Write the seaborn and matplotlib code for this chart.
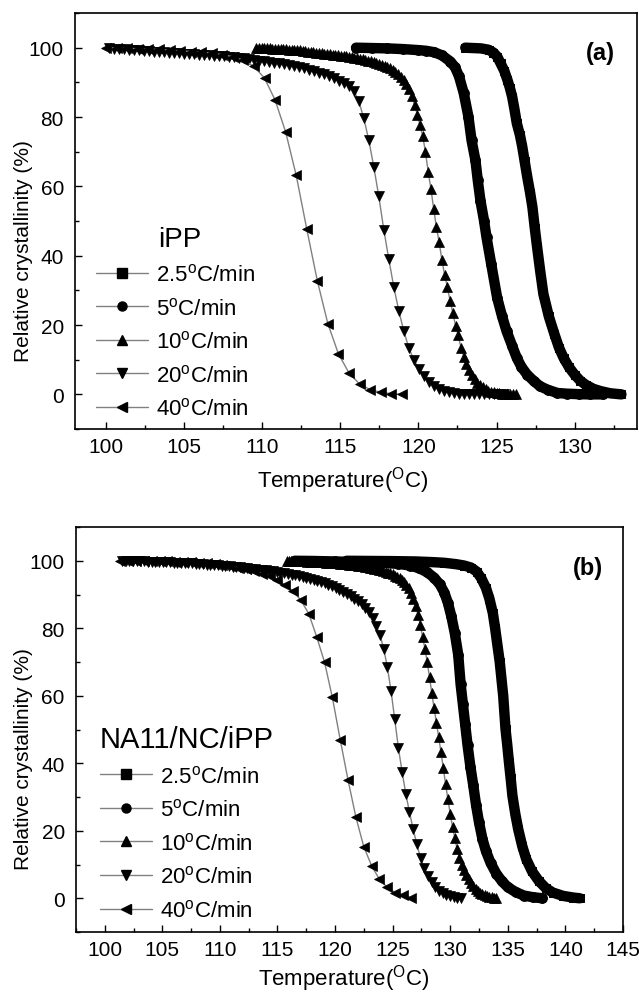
import numpy as np
import matplotlib
matplotlib.use('Agg')
import matplotlib.pyplot as plt
from matplotlib.lines import Line2D
from matplotlib.ticker import MultipleLocator
import seaborn as sns

# ---------------- panel (a): iPP ----------------
# sparse series: constant cooling -> equally spaced temperatures (start, step)
t40a_start, t40a_step = 100.0, 0.676
y40a = [100.0, 99.9, 99.8, 99.7, 99.6, 99.5, 99.3, 99.1, 98.9, 98.7,
        98.4, 98.0, 97.4, 96.4, 94.6, 91.2, 84.9, 75.7, 63.2, 47.7,
        32.8, 20.4, 11.7, 6.2, 3.0, 1.4, 0.6, 0.2, 0.0]

t20a_start, t20a_step = 100.18, 0.32
y20a = [99.8, 99.7, 99.6, 99.5, 99.4, 99.3, 99.2, 99.1, 99.0, 98.9,
        98.8, 98.7, 98.6, 98.5, 98.4, 98.3, 98.2, 98.1, 98.0, 97.9,
        97.8, 97.7, 97.6, 97.5, 97.4, 97.3, 97.1, 96.9, 96.7, 96.5,
        96.3, 96.1, 95.9, 95.7, 95.5, 95.2, 94.9, 94.6, 94.3, 94.0,
        93.6, 93.2, 92.8, 92.3, 91.8, 91.2, 90.5, 89.7, 88.9, 87.6,
        84.6, 79.6, 73.3, 65.6, 57.1, 47.5, 39.0, 31.0, 24.1, 18.3,
        13.4, 10.0, 7.4, 5.2, 3.6, 2.3, 1.5, 1.0, 0.6, 0.4,
        0.2, 0.1, 0.1, 0.0, 0.0, 0.0, 0.0, 0.0, 0.0, 0.0]

t10a_start, t10a_step = 109.6, 0.175
y10a = [100.0, 100.0, 99.9, 99.9, 99.8, 99.8, 99.7, 99.7, 99.6, 99.6,
        99.5, 99.5, 99.4, 99.4, 99.3, 99.3, 99.2, 99.1, 99.0, 98.9,
        98.8, 98.7, 98.6, 98.5, 98.4, 98.3, 98.2, 98.1, 98.0, 97.9,
        97.8, 97.7, 97.6, 97.5, 97.4, 97.3, 97.1, 97.0, 96.8, 96.7,
        96.5, 96.3, 96.1, 95.9, 95.7, 95.4, 95.1, 94.8, 94.4, 94.0,
        93.5, 92.9, 92.3, 91.5, 90.6, 89.6, 88.1, 86.0, 83.5, 80.7,
        77.6, 74.5, 69.8, 64.2, 59.2, 53.5, 48.2, 43.9, 38.8, 34.5,
        31.0, 27.0, 23.6, 19.8, 17.0, 13.4, 10.9, 8.7, 7.0, 5.6,
        4.4, 3.4, 2.6, 2.0, 1.5, 1.1, 0.8, 0.6, 0.4, 0.3,
        0.2, 0.1, 0.1, 0.0, 0.0, 0.0]

# dense series (markers overlap into a solid band)
t5a = [116.0, 117.0, 118.0, 119.0, 120.0, 120.5, 121.0, 121.5, 122.05, 122.35,
       122.6, 122.9, 123.2, 123.4, 123.65, 123.8, 123.97, 124.2, 124.36, 124.66,
       125.04, 125.35, 125.64, 126.0, 126.3, 126.6, 126.96, 127.4, 127.8, 128.3,
       128.9, 129.5, 130.3, 131.0, 131.8]
y5a = [100.0, 99.9, 99.8, 99.6, 99.3, 99.1, 98.7, 97.8, 96.0, 94.3,
       91.7, 86.9, 80.1, 73.3, 67.5, 61.7, 55.9, 50.1, 45.3, 37.6,
       27.9, 22.6, 18.3, 14.0, 10.5, 7.9, 5.7, 3.8, 2.3, 1.3,
       0.4, 0.2, 0.05, 0.0, 0.0]

t25a = [123.0, 123.5, 124.0, 124.5, 124.8, 125.05, 125.26, 125.5, 125.7, 125.85,
        126.0, 126.15, 126.3, 126.5, 126.65, 126.8, 126.97, 127.15, 127.3, 127.45,
        127.6, 127.8, 128.0, 128.35, 128.7, 129.0, 129.3, 129.65, 130.0, 130.35,
        130.7, 131.2, 131.7, 132.3, 133.0]
y25a = [100.0, 99.9, 99.8, 99.4, 98.6, 97.4, 95.5, 93.3, 90.7, 88.5,
        85.9, 82.2, 78.2, 74.8, 71.4, 67.3, 62.7, 58.2, 54.0, 48.0,
        42.5, 35.5, 29.0, 22.5, 17.5, 13.5, 10.5, 7.8, 5.7, 4.0,
        2.8, 1.6, 0.9, 0.3, 0.0]

# ---------------- panel (b): NA11/NC/iPP ----------------
t40b_start, t40b_step = 101.35, 0.682
y40b = [100.0, 100.0, 100.0, 99.95, 99.9, 99.85, 99.8, 99.7, 99.6, 99.5,
        99.4, 99.2, 99.0, 98.7, 98.4, 98.0, 97.5, 96.9, 96.2, 95.4,
        94.3, 92.8, 91.0, 88.3, 84.3, 77.5, 70.0, 59.5, 47.0, 35.0,
        24.0, 15.3, 9.6, 5.6, 3.2, 1.7, 1.0, 0.2]

t20b_start, t20b_step = 101.5, 0.32
y20b = [100.0, 99.95, 99.9, 99.9, 99.85, 99.8, 99.8, 99.75, 99.7, 99.65,
        99.6, 99.6, 99.55, 99.5, 99.45, 99.4, 99.35, 99.3, 99.25, 99.2,
        99.1, 99.05, 99.0, 98.9, 98.85, 98.8, 98.7, 98.6, 98.5, 98.4,
        98.3, 98.2, 98.1, 97.95, 97.8, 97.7, 97.55, 97.4, 97.3, 97.15,
        97.0, 96.85, 96.7, 96.5, 96.3, 96.1, 95.9, 95.7, 95.5, 95.3,
        95.0, 94.7, 94.4, 94.1, 93.7, 93.3, 92.9, 92.4, 91.9, 91.4,
        90.8, 90.2, 89.5, 88.8, 88.0, 87.1, 86.0, 84.7, 83.0, 80.8,
        78.0, 74.0, 68.5, 61.5, 53.0, 44.5, 37.5, 31.0, 25.5, 20.5,
        16.0, 12.0, 9.0, 6.6, 4.8, 3.4, 2.3, 1.5, 1.0, 0.6,
        0.3, 0.15, 0.0]

t10b_start, t10b_step = 115.8, 0.2
y10b = [100.0, 100.0, 99.95, 99.95, 99.9, 99.9, 99.85, 99.8, 99.8, 99.75,
        99.7, 99.7, 99.65, 99.6, 99.6, 99.55, 99.5, 99.45, 99.4, 99.35,
        99.3, 99.3, 99.2, 99.15, 99.1, 99.0, 98.95, 98.9, 98.8, 98.75,
        98.7, 98.6, 98.5, 98.4, 98.3, 98.15, 98.0, 97.85, 97.7, 97.55,
        97.4, 97.2, 97.0, 96.8, 96.5, 96.3, 96.0, 95.6, 95.2, 94.8,
        94.3, 93.6, 92.8, 91.8, 90.4, 88.8, 86.6, 84.0, 81.0, 77.5,
        74.0, 70.0, 65.5, 60.8, 56.3, 52.0, 47.7, 43.2, 38.5, 33.8,
        29.3, 25.0, 21.2, 17.8, 14.5, 12.0, 10.0, 8.3, 6.8, 5.6,
        4.5, 3.6, 2.8, 2.2, 1.7, 1.3, 1.0, 0.7, 0.5, 0.3,
        0.15, 0.0]

t5b = [116.5, 118.0, 120.0, 122.0, 124.0, 125.5, 126.5, 127.3, 128.0, 128.6,
       129.1, 129.5, 129.8, 130.1, 130.4, 130.7, 130.9, 131.1, 131.3, 131.5,
       131.75, 132.0, 132.25, 132.5, 132.8, 133.1, 133.5, 134.0, 134.5, 135.0,
       135.7, 136.4, 137.2, 138.0]
y5b = [100.0, 99.95, 99.8, 99.6, 99.4, 99.1, 98.6, 97.8, 96.6, 95.0,
       93.0, 90.5, 87.5, 83.5, 78.5, 72.0, 63.5, 57.5, 51.5, 45.5,
       39.0, 33.5, 27.5, 22.5, 17.5, 14.0, 10.5, 7.3, 5.0, 3.3,
       1.8, 0.8, 0.3, 0.0]

t25b = [121.0, 123.0, 125.0, 127.0, 128.5, 129.5, 130.5, 131.2, 131.8, 132.3,
        132.7, 133.1, 133.4, 133.7, 133.9, 134.1, 134.3, 134.45, 134.6, 134.8,
        134.95, 135.1, 135.25, 135.4, 135.65, 135.9, 136.25, 136.6, 137.1, 137.7,
        138.3, 138.9, 139.8, 140.7, 141.25]
y25b = [100.0, 99.95, 99.9, 99.8, 99.6, 99.4, 99.0, 98.6, 98.0, 96.8,
        94.8, 92.0, 88.8, 84.5, 80.0, 75.0, 70.0, 65.0, 60.0, 50.2,
        45.5, 40.3, 35.5, 30.4, 25.0, 20.5, 15.5, 11.6, 8.0, 5.1,
        3.0, 1.7, 0.7, 0.2, 0.0]

rate_labels = ['2.5$^{o}$C/min', '5$^{o}$C/min', '10$^{o}$C/min',
               '20$^{o}$C/min', '40$^{o}$C/min']
rate_markers = ['s', 'o', '^', 'v', '<']

sns.set_style('ticks')
plt.rcParams['font.family'] = ['Liberation Sans', 'DejaVu Sans']
plt.rcParams['mathtext.default'] = 'regular'
for key in ['text.color', 'axes.labelcolor', 'xtick.color', 'ytick.color',
            'axes.edgecolor']:
    plt.rcParams[key] = 'black'

GRAY = '#808080'


def sparse(ax, t0, dt, y, marker):
    t = t0 + dt * np.arange(len(y))
    sns.lineplot(x=t, y=y, ax=ax, color=GRAY, lw=1, marker=marker, ms=6.5,
                 markerfacecolor='black', markeredgecolor='black',
                 markeredgewidth=0.5, estimator=None, sort=False)


def dense(ax, t, y, marker, ms):
    sns.lineplot(x=t, y=y, ax=ax, color='black', lw=7.5, marker=marker, ms=ms,
                 markerfacecolor='black', markeredgecolor='black',
                 estimator=None, sort=False, solid_joinstyle='round')


def style(ax, xlim):
    ax.set_xlim(*xlim)
    ax.set_ylim(-10, 110)
    ax.xaxis.set_major_locator(MultipleLocator(5))
    ax.xaxis.set_minor_locator(MultipleLocator(2.5))
    ax.yaxis.set_major_locator(MultipleLocator(20))
    ax.yaxis.set_minor_locator(MultipleLocator(10))
    ax.tick_params(which='both', direction='in', top=False, right=False,
                   width=1, color='black')
    ax.tick_params(which='major', length=5, labelsize=15, labelcolor='black')
    ax.tick_params(which='minor', length=3)
    ax.tick_params(axis='x', which='major', pad=6)
    ax.tick_params(axis='y', which='major', pad=8)
    for s in ax.spines.values():
        s.set_visible(True)
        s.set_linewidth(1.2)
        s.set_color('black')


def legend(ax, anchor):
    handles = [Line2D([], [], color=GRAY, lw=1, marker=m, ms=6.5,
                      markerfacecolor='black', markeredgecolor='black')
               for m in rate_markers]
    ax.legend(handles, rate_labels, loc='upper left', bbox_to_anchor=anchor,
              frameon=False, fontsize=16, handlelength=2.35, handletextpad=0.35,
              labelspacing=0.52, borderpad=0, borderaxespad=0)


fig = plt.figure(figsize=(6.39, 9.95), dpi=100)
ax_a = fig.add_axes([0.1174, 0.5678, 0.8795, 0.4181])
ax_b = fig.add_axes([0.1189, 0.0623, 0.856, 0.407])

# (a)
dense(ax_a, t25a, y25a, 's', 6)
dense(ax_a, t5a, y5a, 'o', 7)
sparse(ax_a, t10a_start, t10a_step, y10a, '^')
sparse(ax_a, t20a_start, t20a_step, y20a, 'v')
sparse(ax_a, t40a_start, t40a_step, y40a, '<')
style(ax_a, (98, 134))
legend(ax_a, (0.037, 0.398))
ax_a.text(0.148, 0.44, 'iPP', transform=ax_a.transAxes, fontsize=20,
          ha='left', va='baseline')
ax_a.text(0.934, 0.906, '(a)', transform=ax_a.transAxes, fontsize=17,
          fontweight='bold', ha='center', va='center')
ax_a.set_xlabel('Temperature($^{O}$C)', fontsize=16)
ax_a.set_ylabel('Relative crystallinity (%)', fontsize=15)
ax_a.xaxis.set_label_coords(0.477, -0.084)
ax_a.yaxis.set_label_coords(-0.075, 0.43)

# (b)
dense(ax_b, t25b, y25b, 's', 6)
dense(ax_b, t5b, y5b, 'o', 7)
sparse(ax_b, t10b_start, t10b_step, y10b, '^')
sparse(ax_b, t20b_start, t20b_step, y20b, 'v')
sparse(ax_b, t40b_start, t40b_step, y40b, '<')
style(ax_b, (97.5, 145))
legend(ax_b, (0.044, 0.412))
ax_b.text(0.044, 0.457, 'NA11/NC/iPP', transform=ax_b.transAxes, fontsize=21,
          ha='left', va='baseline')
ax_b.text(0.936, 0.901, '(b)', transform=ax_b.transAxes, fontsize=17,
          fontweight='bold', ha='center', va='center')
ax_b.set_xlabel('Temperature($^{O}$C)', fontsize=16)
ax_b.set_ylabel('Relative crystallinity (%)', fontsize=15)
ax_b.xaxis.set_label_coords(0.49, -0.074)
ax_b.yaxis.set_label_coords(-0.079, 0.43)

fig.savefig('out.png', dpi=100)
